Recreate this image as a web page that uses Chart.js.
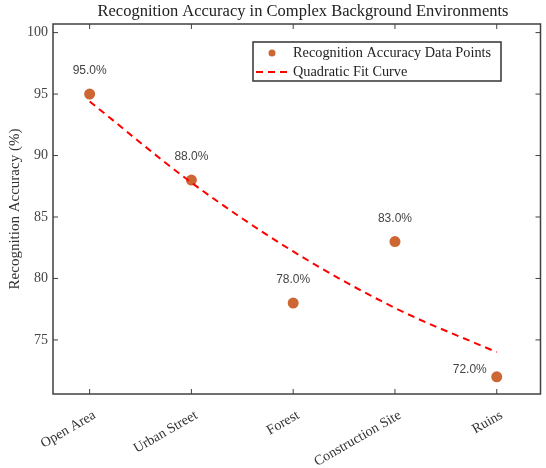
<!DOCTYPE html>
<html>
<head>
<meta charset="utf-8">
<script src="https://cdn.jsdelivr.net/npm/chart.js@4/dist/chart.umd.min.js"></script>
<style>
    body { margin: 0; background: #fff; }
    #box { width: 546px; height: 468px; }
</style>
</head>
<body>
<div id="box"><canvas id="grafico"></canvas></div>
<script>
// dados
const ambientes = ['Open Area', 'Urban Street', 'Forest', 'Construction Site', 'Ruins'];
const acuracia = [95.0, 88.0, 78.0, 83.0, 72.0];
const curvaAjuste = [94.4, 87.8, 82.2, 77.6, 74.0];
const ticksY = [75, 80, 85, 90, 95, 100];

const SERIF = "'Liberation Serif', 'Times New Roman', serif";
const SANS = "'Liberation Sans', Arial, sans-serif";
const COR_PONTO = 'rgb(204, 102, 51)';
const COR_EIXO = '#404040';

Chart.defaults.font.family = SERIF;

// caixa, ticks para dentro, titulo, rotulos e legenda
const estiloMatlab = {
    id: 'estiloMatlab',
    afterDatasetsDraw(chart) {
        const ctx = chart.ctx;
        const area = chart.chartArea;
        const sx = chart.scales.x, sy = chart.scales.y;

        // rotulos dos pontos
        const meta = chart.getDatasetMeta(1);
        ctx.save();
        ctx.font = '12px ' + SANS;
        ctx.fillStyle = '#444';
        ctx.textBaseline = 'middle';
        meta.data.forEach((p, i) => {
            const txt = acuracia[i].toFixed(1) + '%';
            if (i == acuracia.length - 1) {
                ctx.textAlign = 'right';
                ctx.fillText(txt, p.x - 10, p.y - 7);
            } else {
                ctx.textAlign = 'center';
                ctx.fillText(txt, p.x, p.y - 23);
            }
        });
        ctx.restore();

        // caixa
        ctx.save();
        ctx.strokeStyle = COR_EIXO;
        ctx.lineWidth = 1.5;
        ctx.strokeRect(area.left, area.top, area.right - area.left, area.bottom - area.top);

        ctx.lineWidth = 1;
        ctx.beginPath();
        sx.ticks.forEach(t => {
            const x = sx.getPixelForValue(t.value);
            ctx.moveTo(x, area.bottom); ctx.lineTo(x, area.bottom - 5);
            ctx.moveTo(x, area.top); ctx.lineTo(x, area.top + 5);
        });
        sy.ticks.forEach(t => {
            const y = sy.getPixelForValue(t.value);
            ctx.moveTo(area.left, y); ctx.lineTo(area.left + 5, y);
            ctx.moveTo(area.right, y); ctx.lineTo(area.right - 5, y);
        });
        ctx.stroke();
        ctx.restore();

        // titulo
        ctx.save();
        ctx.font = '16.5px ' + SERIF;
        ctx.fillStyle = '#222';
        ctx.textAlign = 'center';
        ctx.textBaseline = 'middle';
        ctx.fillText('Recognition Accuracy in Complex Background Environments', 303, 12);
        ctx.restore();

        // legenda
        ctx.save();
        ctx.fillStyle = '#fff';
        ctx.fillRect(253, 42, 248, 39);
        ctx.strokeStyle = '#333';
        ctx.lineWidth = 1.5;
        ctx.strokeRect(253, 42, 248, 39);
        ctx.fillStyle = COR_PONTO;
        ctx.beginPath();
        ctx.arc(272, 53, 3.5, 0, Math.PI * 2);
        ctx.fill();
        ctx.strokeStyle = 'red';
        ctx.lineWidth = 2;
        ctx.setLineDash([7, 5]);
        ctx.beginPath();
        ctx.moveTo(256, 72); ctx.lineTo(291, 72);
        ctx.stroke();
        ctx.setLineDash([]);
        ctx.font = '14.3px ' + SERIF;
        ctx.fillStyle = '#222';
        ctx.textAlign = 'left';
        ctx.textBaseline = 'middle';
        ctx.fillText('Recognition Accuracy Data Points', 293, 53);
        ctx.fillText('Quadratic Fit Curve', 293, 72);
        ctx.restore();
    }
};

const dados = {
    datasets: [{
        label: 'Quadratic Fit Curve',
        type: 'line',
        data: curvaAjuste.map((v, i) => ({ x: i + 1, y: v })),
        borderColor: 'rgb(255, 0, 0)',
        borderWidth: 2,
        borderDash: [7, 5],
        pointRadius: 0,
        cubicInterpolationMode: 'monotone',
        fill: false
    },
    {
        label: 'Recognition Accuracy Data Points',
        type: 'scatter',
        data: acuracia.map((v, i) => ({ x: i + 1, y: v })),
        backgroundColor: COR_PONTO,
        borderColor: COR_PONTO,
        pointRadius: 5.5,
        borderWidth: 0
    }]
};

const config = {
    type: 'scatter',
    data: dados,
    plugins: [estiloMatlab],
    options: {
        responsive: true,
        maintainAspectRatio: false,
        animation: false,
        layout: { padding: { top: 24, right: 0, left: 0, bottom: 0 } },
        plugins: {
            legend: { display: false },
            title: { display: false },
            tooltip: { enabled: false }
        },
        scales: {
            x: {
                type: 'linear',
                min: 0.64,
                max: 5.43,
                afterBuildTicks: (s) => { s.ticks = ambientes.map((a, i) => ({ value: i + 1 })); },
                afterFit: (s) => { s.height = 74; },
                grid: { display: false, drawTicks: false },
                border: { display: false },
                ticks: {
                    autoSkip: false,
                    minRotation: 30,
                    maxRotation: 30,
                    padding: 13,
                    labelOffset: 5,
                    color: '#333',
                    font: { size: 14, family: SERIF },
                    callback: (v) => ambientes[Math.round(v) - 1]
                }
            },
            y: {
                min: 70.6,
                max: 100.7,
                afterBuildTicks: (s) => { s.ticks = ticksY.map(v => ({ value: v })); },
                afterFit: (s) => { s.width = 53; },
                grid: { display: false, drawTicks: false },
                border: { display: false },
                ticks: {
                    padding: 5,
                    color: '#444',
                    font: { size: 14, family: SERIF }
                },
                title: {
                    display: true,
                    text: 'Recognition Accuracy (%)',
                    color: '#333',
                    padding: { top: 6, bottom: 4 },
                    font: { size: 15, family: SERIF }
                }
            }
        }
    }
};

const grafico = new Chart(document.getElementById('grafico'), config);
</script>
</body>
</html>
